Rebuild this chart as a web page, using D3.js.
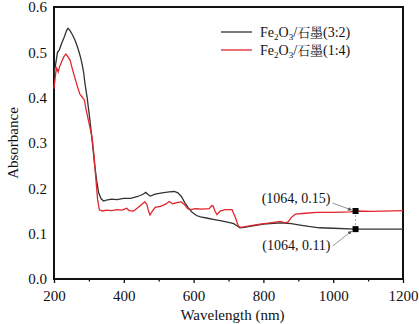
<!DOCTYPE html>
<html lang="zh">
<head>
<meta charset="UTF-8">
<title>Absorbance</title>
<script src="https://d3js.org/d3.v7.min.js"></script>
<style>
  body { margin: 0; background: #fff; }
  text { font-family: "Liberation Serif", "Times New Roman", serif; fill: #111; }
  .cjk { font-family: "Noto Serif CJK SC", "Noto Sans CJK SC", serif; }
</style>
</head>
<body>
<svg id="chart" width="419" height="324"></svg>
<script>
// Fe2O3/石墨(3:2)
const wl32 = [200,205,210,215,222,230,236,240,245,252,260,268,275,280,285,289,295,303,310,316,322,328,335,342,350,365,380,400,420,440,455,463,470,476,490,510,530,545,555,565,575,585,595,608,620,640,660,680,700,715,725,733,745,770,800,830,850,880,905,930,960,1000,1064,1100,1200];
const abs32 = [0.452,0.475,0.50,0.505,0.52,0.535,0.548,0.553,0.549,0.54,0.527,0.51,0.492,0.476,0.455,0.43,0.40,0.35,0.30,0.255,0.218,0.19,0.177,0.172,0.174,0.176,0.175,0.178,0.178,0.182,0.187,0.191,0.186,0.183,0.187,0.190,0.192,0.193,0.19,0.182,0.168,0.157,0.148,0.140,0.137,0.134,0.131,0.128,0.125,0.122,0.117,0.113,0.114,0.117,0.121,0.123,0.124,0.122,0.119,0.116,0.113,0.112,0.11,0.11,0.11];

// Fe2O3/石墨(1:4)
const wl14 = [200,205,208,212,216,222,228,234,240,246,252,260,267,274,280,287,293,300,309,315,320,325,330,340,350,365,380,395,408,415,428,440,452,460,466,470,475,482,490,505,520,530,540,555,565,575,583,592,605,625,645,652,656,661,667,676,690,710,720,728,735,760,790,820,848,862,871,880,892,920,953,1000,1048,1064,1110,1200];
const abs14 = [0.42,0.455,0.465,0.457,0.468,0.48,0.49,0.496,0.49,0.483,0.465,0.443,0.425,0.408,0.402,0.395,0.37,0.345,0.313,0.27,0.22,0.175,0.152,0.15,0.152,0.151,0.153,0.152,0.156,0.151,0.150,0.157,0.165,0.17,0.165,0.152,0.141,0.15,0.158,0.16,0.165,0.171,0.166,0.169,0.170,0.163,0.155,0.153,0.155,0.154,0.155,0.162,0.161,0.150,0.142,0.150,0.153,0.153,0.135,0.117,0.114,0.117,0.121,0.124,0.127,0.124,0.126,0.136,0.143,0.145,0.147,0.147,0.148,0.15,0.149,0.151];

const xTicks = [200, 400, 600, 800, 1000, 1200];
const yTicks = [0.0, 0.1, 0.2, 0.3, 0.4, 0.5, 0.6];
const marks = [{ wl: 1064, v: 0.15, label: "(1064, 0.15)" }, { wl: 1064, v: 0.11, label: "(1064, 0.11)" }];

const svg = d3.select("#chart");
const margin = { top: 7, right: 16, bottom: 45, left: 54 };
const width = 419 - margin.left - margin.right;
const height = 324 - margin.top - margin.bottom;
const g = svg.append("g").attr("transform", `translate(${margin.left},${margin.top})`);

const x = d3.scaleLinear().domain([200, 1200]).range([0, width]);
const y = d3.scaleLinear().domain([0, 0.6]).range([height, 0]);

// minor x ticks
g.append("g")
  .attr("transform", `translate(0,${height})`)
  .call(d3.axisBottom(x).tickValues(d3.range(300, 1200, 200)).tickSize(2.5).tickFormat(""))
  .call(a => a.select(".domain").remove())
  .selectAll("line").attr("stroke", "#111").attr("stroke-width", 1.3);

// X axis
const xa = g.append("g")
  .attr("transform", `translate(0,${height})`)
  .call(d3.axisBottom(x).tickValues(xTicks).tickSize(4).tickPadding(7).tickFormat(d3.format("d")));
xa.select(".domain").remove();
xa.selectAll("line").attr("stroke", "#111").attr("stroke-width", 1.3);
xa.selectAll("text").attr("font-size", 15).attr("font-family", "Liberation Serif").attr("fill", "#111");

// Y axis
const ya = g.append("g")
  .call(d3.axisLeft(y).tickValues(yTicks).tickSize(0).tickPadding(7).tickFormat(d3.format(".1f")));
ya.select(".domain").remove();
ya.selectAll("text").attr("font-size", 15).attr("font-family", "Liberation Serif").attr("fill", "#111");

// frame
g.append("rect")
  .attr("width", width).attr("height", height)
  .attr("fill", "none").attr("stroke", "#111").attr("stroke-width", 2);

// lines
const line = d3.line().x(d => x(d[0])).y(d => y(d[1]));
g.append("path")
  .datum(d3.zip(wl32, abs32))
  .attr("fill", "none").attr("stroke", "#333").attr("stroke-width", 1.3)
  .attr("d", line);
g.append("path")
  .datum(d3.zip(wl14, abs14))
  .attr("fill", "none").attr("stroke", "#e0262c").attr("stroke-width", 1.3)
  .attr("d", line);

// annotations
g.append("line")
  .attr("x1", x(marks[0].wl)).attr("x2", x(marks[1].wl))
  .attr("y1", y(marks[0].v)).attr("y2", y(marks[1].v))
  .attr("stroke", "#aaa").attr("stroke-width", 1).attr("stroke-dasharray", "2,2");

svg.append("defs").append("marker")
  .attr("id", "arr").attr("viewBox", "0 0 10 10").attr("refX", 9).attr("refY", 5)
  .attr("markerWidth", 5).attr("markerHeight", 5).attr("orient", "auto")
  .append("path").attr("d", "M0,0L10,5L0,10z").attr("fill", "#555");

marks.forEach((m, i) => {
  const px = x(m.wl), py = y(m.v);
  const ly = i === 0 ? py - 13 : py + 16;
  g.append("line")
    .attr("x1", px - 23).attr("y1", i === 0 ? py - 8 : py + 17)
    .attr("x2", px - 4).attr("y2", i === 0 ? py - 1 : py + 2)
    .attr("stroke", "#777").attr("stroke-width", 0.8)
    .attr("marker-end", "url(#arr)");
  g.append("rect")
    .attr("x", px - 3).attr("y", py - 3).attr("width", 6).attr("height", 6)
    .attr("fill", "#000");
  g.append("text")
    .attr("x", px - 25).attr("y", ly + 5)
    .attr("text-anchor", "end").attr("font-size", 14)
    .text(m.label);
});

// legend
const legend = [
  { ratio: "(3:2)", color: "#333" },
  { ratio: "(1:4)", color: "#e0262c" }
];
legend.forEach((d, i) => {
  const ly = 25 + i * 18;
  g.append("line")
    .attr("x1", 167).attr("x2", 198).attr("y1", ly).attr("y2", ly)
    .attr("stroke", d.color).attr("stroke-width", 1.3);
  const t = g.append("text").attr("x", 206).attr("y", ly + 5).attr("font-size", 14);
  t.append("tspan").text("Fe");
  t.append("tspan").attr("font-size", 9).attr("dy", 3).text("2");
  t.append("tspan").attr("dy", -3).text("O");
  t.append("tspan").attr("font-size", 9).attr("dy", 3).text("3");
  t.append("tspan").attr("dy", -3).text("/");
  t.append("tspan").attr("class", "cjk").attr("font-size", 13).text("石墨");
  t.append("tspan").text(d.ratio);
});

// axis titles
svg.append("text")
  .attr("x", margin.left + width / 2 + 4).attr("y", 320)
  .attr("text-anchor", "middle").attr("font-size", 15)
  .text("Wavelength (nm)");
svg.append("text")
  .attr("transform", `translate(18,${margin.top + height / 2}) rotate(-90)`)
  .attr("text-anchor", "middle").attr("font-size", 15)
  .text("Absorbance");
</script>
</body>
</html>
